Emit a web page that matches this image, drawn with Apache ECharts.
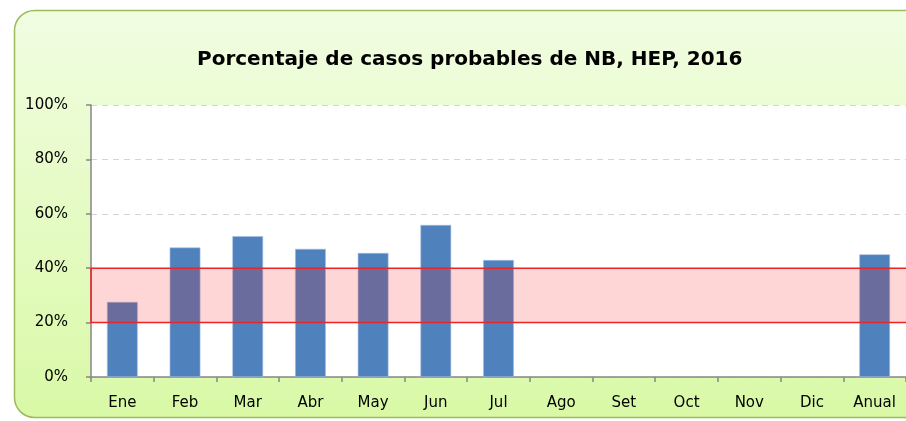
<!DOCTYPE html>
<html>
<head>
<meta charset="utf-8">
<script src="https://cdn.jsdelivr.net/npm/echarts@6/dist/echarts.min.js"></script>
<style>
  html, body { margin: 0; padding: 0; background: #fff; }
  #chart { width: 906px; height: 421px; }
</style>
</head>
<body>
<div id="chart"></div>
<script>
const categories = ['Ene', 'Feb', 'Mar', 'Abr', 'May', 'Jun', 'Jul', 'Ago', 'Set', 'Oct', 'Nov', 'Dic', 'Anual']
const values = [27.6, 47.6, 51.8, 47.1, 45.6, 55.9, 43.0, null, null, null, null, null, 45.1]
const bandRange = [20, 40]

const chart = echarts.init(document.getElementById('chart'))

const font = 'DejaVu Sans'

const option = {
  animation: false,
  graphic: [{
    type: 'rect',
    z: -10,
    silent: true,
    shape: { x: 14.5, y: 10.5, width: 920, height: 407, r: 20 },
    style: {
      fill: new echarts.graphic.LinearGradient(0, 0, 0, 1, [
        { offset: 0, color: '#f1fde2' },
        { offset: 1, color: '#d9f9a6' }
      ]),
      stroke: '#9bbb59',
      lineWidth: 1.5
    }
  }],
  title: {
    text: 'Porcentaje de casos probables de NB, HEP, 2016',
    left: 192,
    top: 45,
    textStyle: { fontFamily: font, fontSize: 20, fontWeight: 'bold', color: '#000' }
  },
  grid: {
    left: 91,
    right: -6,
    top: 105,
    bottom: 44,
    show: true,
    backgroundColor: '#fff',
    borderWidth: 0
  },
  xAxis: {
    type: 'category',
    data: categories,
    axisLine: { lineStyle: { color: '#868686', width: 1.5 } },
    axisTick: { show: true, length: 5, lineStyle: { color: '#868686', width: 1.5 } },
    axisLabel: { fontFamily: font, fontSize: 15, color: '#000', margin: 19 }
  },
  yAxis: {
    type: 'value',
    min: 0,
    max: 100,
    interval: 20,
    axisLine: { show: true, lineStyle: { color: '#868686', width: 1.5 } },
    axisTick: { show: true, length: 5, lineStyle: { color: '#868686', width: 1.5 } },
    axisLabel: { fontFamily: font, fontSize: 15, color: '#000', margin: 23, formatter: '{value}%' },
    splitLine: { lineStyle: { color: '#d4d4d4', type: [6, 5] } }
  },
  series: [
    {
      type: 'bar',
      data: values,
      barWidth: '49%',
      itemStyle: { color: '#4f81bd', borderColor: '#a9c0e0', borderWidth: 0.6 }
    },
    {
      type: 'line',
      data: [],
      z: 10,
      markArea: {
        silent: true,
        z: 10,
        itemStyle: { color: 'rgba(255, 0, 0, 0.16)', borderColor: '#e8262a', borderWidth: 1.5 },
        data: [[{ yAxis: bandRange[0], x: 91 }, { yAxis: bandRange[1], x: 920 }]]
      }
    }
  ]
}

chart.setOption(option)
</script>
</body>
</html>
